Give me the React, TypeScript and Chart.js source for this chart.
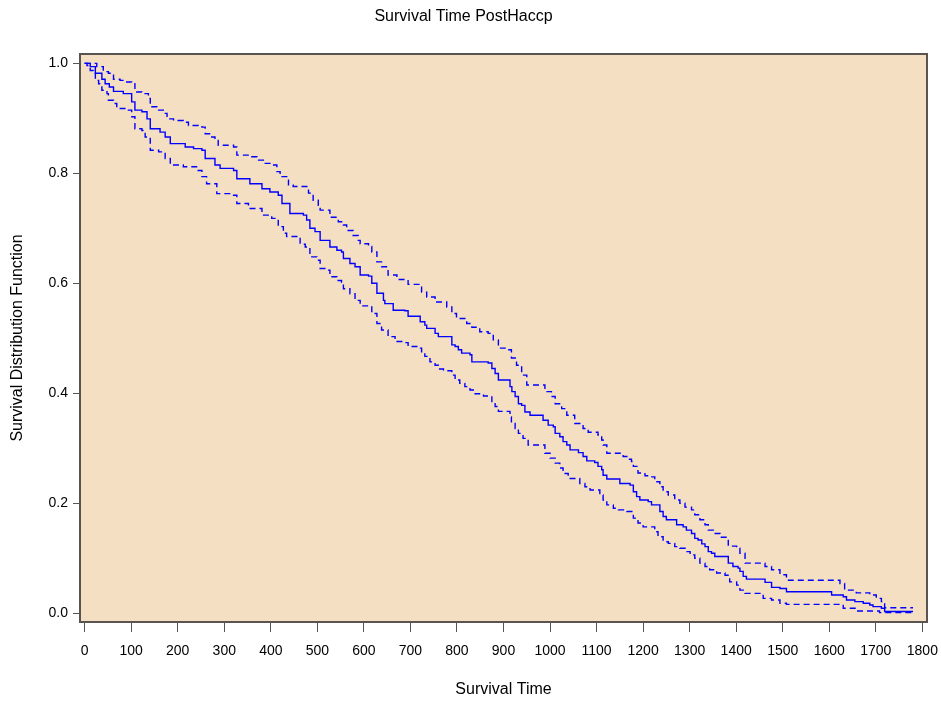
import React, { useEffect, useRef } from "react";
import { Chart, registerables } from "chart.js";

Chart.register(...registerables);

const TITLE = "Survival Time PostHaccp";
const X_TITLE = "Survival Time";
const Y_TITLE = "Survival Distribution Function";
const X_TICKS = [0, 100, 200, 300, 400, 500, 600, 700, 800, 900, 1000, 1100, 1200, 1300, 1400, 1500, 1600, 1700, 1800];
const Y_TICKS = [0, 0.2, 0.4, 0.6, 0.8, 1.0];

// Kaplan-Meier estimate (solid)
const survTime = [0, 12, 23, 37, 44, 53, 62, 83, 101, 108, 123, 134, 141, 162, 173, 184, 216, 234, 252, 259, 280, 291, 320, 327, 355, 381, 398, 416, 424, 441, 470, 477, 484, 495, 506, 527, 542, 552, 556, 570, 581, 592, 610, 617, 628, 642, 645, 663, 688, 695, 721, 731, 735, 753, 760, 789, 796, 803, 810, 828, 832, 867, 875, 882, 889, 914, 918, 925, 932, 939, 946, 957, 985, 996, 1007, 1011, 1021, 1028, 1036, 1043, 1061, 1071, 1079, 1096, 1103, 1111, 1114, 1122, 1150, 1172, 1179, 1186, 1193, 1211, 1218, 1236, 1243, 1250, 1272, 1286, 1293, 1304, 1311, 1318, 1326, 1333, 1340, 1347, 1354, 1383, 1393, 1404, 1408, 1415, 1422, 1462, 1476, 1494, 1508, 1605, 1630, 1637, 1655, 1673, 1687, 1694, 1712, 1719, 1780];
const survValue = [1.0, 0.994, 0.982, 0.971, 0.963, 0.957, 0.949, 0.945, 0.930, 0.915, 0.912, 0.899, 0.881, 0.875, 0.866, 0.854, 0.848, 0.845, 0.842, 0.827, 0.815, 0.809, 0.805, 0.790, 0.781, 0.772, 0.766, 0.760, 0.745, 0.727, 0.724, 0.715, 0.700, 0.694, 0.678, 0.666, 0.660, 0.657, 0.645, 0.636, 0.630, 0.615, 0.613, 0.600, 0.582, 0.569, 0.563, 0.551, 0.550, 0.540, 0.530, 0.524, 0.518, 0.509, 0.503, 0.488, 0.485, 0.479, 0.473, 0.470, 0.457, 0.455, 0.445, 0.436, 0.424, 0.412, 0.403, 0.394, 0.381, 0.378, 0.366, 0.360, 0.351, 0.342, 0.339, 0.327, 0.321, 0.312, 0.306, 0.297, 0.292, 0.285, 0.277, 0.274, 0.267, 0.261, 0.251, 0.244, 0.236, 0.233, 0.221, 0.212, 0.206, 0.203, 0.197, 0.185, 0.176, 0.170, 0.161, 0.157, 0.151, 0.145, 0.136, 0.133, 0.126, 0.121, 0.112, 0.109, 0.103, 0.091, 0.085, 0.082, 0.076, 0.067, 0.062, 0.056, 0.047, 0.045, 0.039, 0.033, 0.030, 0.024, 0.021, 0.018, 0.015, 0.012, 0.009, 0.003, 0.003];

// Upper 95% confidence limit (dashed)
const upperTime = [0, 26, 40, 51, 62, 76, 87, 101, 108, 123, 137, 141, 155, 169, 177, 191, 212, 223, 244, 252, 259, 270, 280, 287, 320, 327, 355, 370, 384, 398, 413, 420, 438, 448, 481, 491, 502, 506, 527, 545, 556, 563, 577, 588, 592, 610, 617, 628, 638, 652, 671, 695, 724, 735, 753, 778, 789, 799, 821, 832, 849, 867, 878, 889, 910, 917, 928, 939, 950, 989, 1003, 1011, 1025, 1036, 1053, 1071, 1082, 1103, 1111, 1114, 1122, 1157, 1165, 1175, 1179, 1189, 1204, 1215, 1225, 1236, 1243, 1254, 1268, 1279, 1290, 1304, 1311, 1322, 1333, 1340, 1351, 1365, 1383, 1401, 1408, 1419, 1462, 1476, 1494, 1508, 1623, 1633, 1658, 1687, 1701, 1712, 1719, 1780];
const upperValue = [1.0, 0.994, 0.985, 0.982, 0.971, 0.969, 0.966, 0.963, 0.948, 0.945, 0.936, 0.921, 0.915, 0.909, 0.899, 0.896, 0.893, 0.887, 0.886, 0.884, 0.872, 0.866, 0.860, 0.851, 0.848, 0.833, 0.830, 0.824, 0.818, 0.815, 0.803, 0.794, 0.779, 0.776, 0.764, 0.751, 0.742, 0.733, 0.720, 0.712, 0.706, 0.696, 0.687, 0.678, 0.672, 0.667, 0.657, 0.639, 0.630, 0.615, 0.607, 0.598, 0.584, 0.575, 0.566, 0.557, 0.545, 0.536, 0.527, 0.520, 0.512, 0.509, 0.497, 0.482, 0.479, 0.464, 0.451, 0.433, 0.415, 0.403, 0.394, 0.381, 0.372, 0.360, 0.345, 0.336, 0.329, 0.324, 0.315, 0.306, 0.291, 0.285, 0.280, 0.276, 0.267, 0.255, 0.250, 0.248, 0.239, 0.230, 0.221, 0.215, 0.206, 0.200, 0.193, 0.188, 0.179, 0.170, 0.161, 0.151, 0.145, 0.138, 0.122, 0.118, 0.109, 0.091, 0.085, 0.079, 0.070, 0.060, 0.054, 0.042, 0.037, 0.033, 0.027, 0.021, 0.010, 0.010];

// Lower 95% confidence limit (dashed)
const lowerTime = [0, 5, 12, 19, 23, 30, 37, 48, 51, 62, 69, 94, 101, 108, 123, 130, 141, 159, 173, 184, 212, 244, 252, 262, 284, 320, 327, 352, 381, 402, 416, 427, 434, 463, 474, 484, 499, 506, 520, 527, 542, 552, 556, 570, 581, 592, 610, 617, 628, 638, 652, 667, 688, 695, 717, 724, 731, 742, 753, 760, 771, 789, 796, 806, 817, 828, 839, 857, 875, 882, 889, 914, 917, 925, 932, 942, 953, 989, 1000, 1011, 1021, 1028, 1039, 1064, 1075, 1086, 1107, 1114, 1122, 1136, 1147, 1165, 1179, 1189, 1200, 1225, 1232, 1243, 1254, 1268, 1279, 1290, 1301, 1311, 1322, 1333, 1343, 1358, 1376, 1386, 1401, 1408, 1419, 1458, 1476, 1494, 1508, 1630, 1658, 1708, 1780];
const lowerValue = [1.0, 0.996, 0.987, 0.982, 0.969, 0.963, 0.951, 0.945, 0.933, 0.927, 0.918, 0.915, 0.903, 0.881, 0.878, 0.866, 0.842, 0.839, 0.827, 0.815, 0.812, 0.805, 0.794, 0.781, 0.763, 0.760, 0.745, 0.736, 0.724, 0.718, 0.703, 0.691, 0.685, 0.671, 0.666, 0.648, 0.642, 0.627, 0.624, 0.612, 0.605, 0.602, 0.590, 0.581, 0.569, 0.559, 0.557, 0.545, 0.527, 0.515, 0.503, 0.494, 0.492, 0.485, 0.482, 0.473, 0.467, 0.457, 0.451, 0.444, 0.441, 0.433, 0.424, 0.418, 0.412, 0.406, 0.399, 0.395, 0.385, 0.376, 0.367, 0.357, 0.345, 0.336, 0.327, 0.318, 0.306, 0.291, 0.282, 0.273, 0.264, 0.254, 0.245, 0.236, 0.230, 0.224, 0.215, 0.206, 0.197, 0.191, 0.188, 0.185, 0.173, 0.164, 0.157, 0.148, 0.139, 0.130, 0.127, 0.121, 0.118, 0.112, 0.106, 0.100, 0.091, 0.085, 0.079, 0.073, 0.069, 0.057, 0.051, 0.042, 0.036, 0.027, 0.024, 0.018, 0.016, 0.009, 0.004, 0.001, 0.001];

const FONT = "'Liberation Sans', Arial, sans-serif";
const LINE_COLOR = "#0000FF";
const PLOT_BG = "#F5DFC2";
const FRAME = "#5a5450";

const toPoints = (xs: number[], ys: number[]) => xs.map((x, i) => ({ x, y: ys[i] }));

const framePlugin = {
  id: "frameBg",
  beforeDraw(chart: any) {
    const { ctx, chartArea: a, width, height } = chart;
    ctx.save();
    ctx.fillStyle = "#ffffff";
    ctx.fillRect(0, 0, width, height);
    ctx.fillStyle = PLOT_BG;
    ctx.fillRect(a.left, a.top, a.right - a.left, a.bottom - a.top);
    ctx.restore();
  },
  afterDatasetsDraw(chart: any) {
    const { ctx, chartArea: a } = chart;
    ctx.save();
    ctx.strokeStyle = FRAME;
    ctx.lineWidth = 2;
    ctx.strokeRect(a.left, a.top, a.right - a.left, a.bottom - a.top);
    ctx.restore();
  },
};

export default function App() {
  const ref = useRef<HTMLCanvasElement | null>(null);
  useEffect(() => {
    if (!ref.current) return;
    const common = { pointRadius: 0, stepped: true as const, fill: false, borderColor: LINE_COLOR, backgroundColor: LINE_COLOR };
    const chart = new Chart(ref.current, {
      type: "line",
      data: {
        datasets: [
          { ...common, label: "Upper", data: toPoints(upperTime, upperValue), borderWidth: 1.4, borderDash: [6, 4] },
          { ...common, label: "Lower", data: toPoints(lowerTime, lowerValue), borderWidth: 1.4, borderDash: [6, 4] },
          { ...common, label: "Survival", data: toPoints(survTime, survValue), borderWidth: 1.4 },
        ],
      },
      options: {
        animation: false,
        responsive: false,
        devicePixelRatio: 1,
        layout: { padding: { top: 0, right: 14, bottom: 0, left: 0 } },
        plugins: {
          legend: { display: false },
          tooltip: { enabled: false },
          title: {
            display: true,
            text: TITLE,
            color: "#000",
            font: { family: FONT, size: 16, weight: "normal", lineHeight: 1.2 },
            padding: { top: 7, bottom: 27.8 },
          },
        },
        scales: {
          x: {
            type: "linear",
            min: -10,
            max: 1810,
            afterBuildTicks: (s: any) => { s.ticks = X_TICKS.map((v) => ({ value: v })); },
            afterFit: (s: any) => { s.height = 82; s.paddingLeft = 0; s.paddingRight = 0; },
            ticks: { color: "#000", font: { family: FONT, size: 14 }, padding: 11, maxRotation: 0, autoSkip: false, callback: (v: any) => String(v) },
            grid: { drawOnChartArea: false, drawTicks: true, tickLength: 10, color: "#555", tickColor: "#555" },
            border: { display: false },
            title: { display: true, text: X_TITLE, color: "#000", font: { family: FONT, size: 16, lineHeight: 1.2 }, padding: { top: 0, bottom: 4.4 } },
          },
          y: {
            type: "linear",
            min: -0.016,
            max: 1.017,
            afterBuildTicks: (s: any) => { s.ticks = Y_TICKS.map((v) => ({ value: v })); },
            afterFit: (s: any) => { s.width = 80; s.paddingTop = 0; s.paddingBottom = 0; },
            ticks: { color: "#000", font: { family: FONT, size: 14 }, padding: 5, autoSkip: false, callback: (v: any) => Number(v).toFixed(1) },
            grid: { drawOnChartArea: false, drawTicks: true, tickLength: 7, color: "#555", tickColor: "#555" },
            border: { display: false },
            title: { display: true, text: Y_TITLE, color: "#000", font: { family: FONT, size: 16, lineHeight: 1.2 }, padding: { top: 8.4, bottom: 0 } },
          },
        },
      },
      plugins: [framePlugin],
    });
    return () => chart.destroy();
  }, []);
  return (
    <div style={{ position: "absolute", left: 0, top: 0, width: 941, height: 704 }}>
      <canvas ref={ref} width={941} height={704} style={{ display: "block", width: 941, height: 704 }} />
    </div>
  );
}
